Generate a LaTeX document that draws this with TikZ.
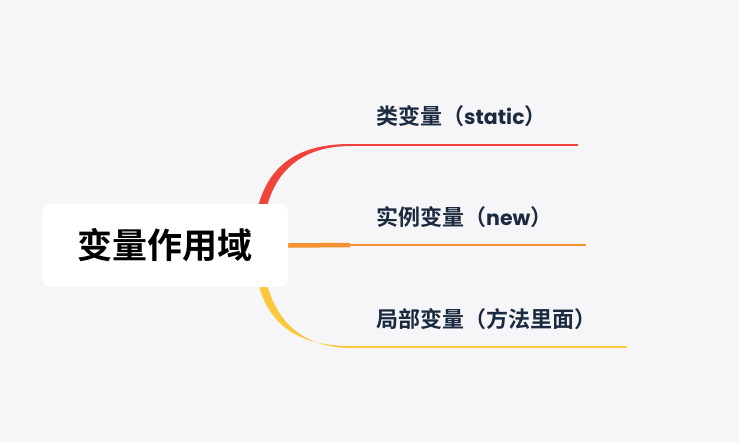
\documentclass[tikz,border=0pt]{standalone}
\usepackage{fontspec}
\setmainfont{Noto Sans CJK SC}[BoldFont={Noto Sans CJK SC Bold}]
\newfontfamily\latfont{Poppins}
\usetikzlibrary{positioning,backgrounds}
\definecolor{bgcol}{HTML}{F6F6F9}
\definecolor{redline}{HTML}{F0443A}
\definecolor{orangeline}{HTML}{F4922F}
\definecolor{yellowline}{HTML}{FCC73A}
\definecolor{textcol}{HTML}{1C2A3F}

\begin{document}
\begin{tikzpicture}[x=1pt, y=-1pt, >=stealth,
  lbl/.style={anchor=west, inner sep=0pt, text=textcol, font=\bfseries\fontsize{22}{22}\selectfont}]
  % 背景
  \begin{pgfonlayer}{background}
    \fill[bgcol] (0,0) rectangle (739,442);
  \end{pgfonlayer}

  % 中心主题
  \node[fill=white, rounded corners=8pt, minimum width=246pt, minimum height=83pt,
        inner sep=0pt, font=\bfseries\fontsize{35}{35}\selectfont] (root) at (165,245.5) {变量作用域};

  % 分支端点
  \coordinate (r1) at (350,145);
  \coordinate (r2) at (350,245);
  \coordinate (r3) at (350,347);
  \coordinate (e1) at (578,145);
  \coordinate (e2) at (586,245);
  \coordinate (e3) at (627,347);

  % 分支标签
  \node[lbl] (l1) at (376,116) {类变量（{\latfont\fontsize{20.5}{20.5}\selectfont static}）};
  \node[lbl] (l2) at (376,217) {实例变量（{\latfont\fontsize{20.5}{20.5}\selectfont new}）};
  \node[lbl] (l3) at (376,319) {局部变量（方法里面）};

  % 连线
  \begin{pgfonlayer}{background}
    \fill[redline] (253,245) .. controls (255,172) and (290,144) .. (350,144)
      -- (350,146) .. controls (295,146.5) and (263,178) .. (262,245) -- cycle;
    \fill[yellowline] (253,245) .. controls (255,318) and (290,346) .. (350,346)
      -- (350,348) .. controls (295,347.5) and (263,312) .. (262,245) -- cycle;
    \draw[orangeline, line width=4.5pt] (root.east) -- (r2);
  \end{pgfonlayer}
  \draw[redline, line width=2pt] (r1) -- (e1);
  \draw[orangeline, line width=2pt] (r2) -- (e2);
  \draw[yellowline, line width=2pt] (r3) -- (e3);
\end{tikzpicture}
\end{document}
